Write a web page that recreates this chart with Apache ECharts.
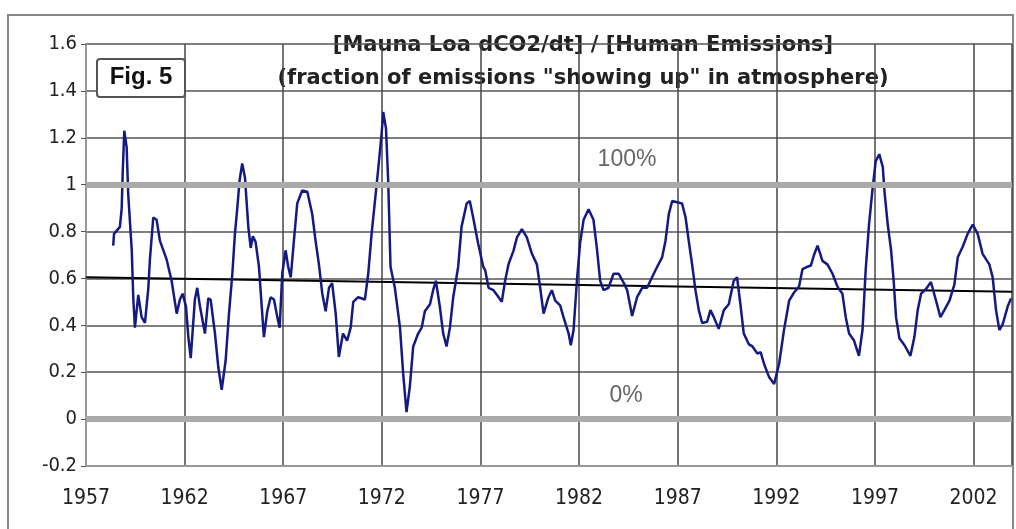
<!DOCTYPE html>
<html>
<head>
<meta charset="utf-8">
<script src="https://cdn.jsdelivr.net/npm/echarts@6/dist/echarts.min.js"></script>
<style>
  html, body { margin: 0; padding: 0; background: #fff; }
  #chart { width: 1016px; height: 529px; }
</style>
</head>
<body>
<div id="chart"></div>
<script>
// split by stretch of years
const yearsA = [1958.38,1958.42,1958.72,1958.81,1958.86,1958.94,1959.06,1959.14,1959.32,1959.40,1959.48,1959.65,1959.82,1959.99,1960.16,1960.24,1960.41,1960.58,1960.75,1961.09,1961.34,1961.60,1961.76,1961.90,1962.07,1962.19,1962.31,1962.52,1962.64,1962.78,1963.03,1963.20,1963.32,1963.54,1963.71,1963.88];
const fracA  = [0.74,0.79,0.82,0.90,1.05,1.23,1.16,0.96,0.72,0.51,0.39,0.53,0.435,0.41,0.56,0.68,0.86,0.85,0.76,0.68,0.59,0.45,0.51,0.535,0.48,0.35,0.26,0.51,0.56,0.48,0.365,0.515,0.51,0.365,0.22,0.125];

const yearsB = [1964.08,1964.25,1964.42,1964.55,1964.67,1964.79,1964.92,1965.06,1965.23,1965.35,1965.46,1965.60,1965.77,1965.91,1966.02,1966.19,1966.36,1966.53,1966.70,1966.82,1966.95,1967.12,1967.25,1967.38,1967.54,1967.71,1967.96,1968.22,1968.47,1968.64,1968.81,1968.98,1969.15,1969.32,1969.48,1969.66,1969.82,1970.03,1970.24,1970.42,1970.55];
const fracB  = [0.25,0.45,0.62,0.79,0.90,1.02,1.09,1.03,0.82,0.73,0.78,0.755,0.65,0.48,0.35,0.46,0.52,0.51,0.435,0.39,0.62,0.72,0.65,0.605,0.76,0.92,0.975,0.97,0.875,0.76,0.66,0.535,0.46,0.56,0.58,0.45,0.265,0.365,0.335,0.39,0.50];

const yearsC = [1970.80,1971.14,1971.31,1971.48,1971.65,1971.82,1971.99,1972.07,1972.21,1972.32,1972.44,1972.66,1972.92,1973.08,1973.25,1973.42,1973.59,1973.84,1974.02,1974.18,1974.44,1974.60,1974.74,1974.94,1975.11,1975.28,1975.45,1975.62,1975.87,1976.04,1976.30,1976.46,1976.63,1976.88,1977.14];
const fracC  = [0.52,0.51,0.62,0.79,0.93,1.07,1.22,1.31,1.24,1.02,0.65,0.56,0.39,0.195,0.03,0.14,0.31,0.365,0.39,0.46,0.49,0.55,0.59,0.48,0.365,0.31,0.39,0.52,0.65,0.82,0.92,0.93,0.86,0.75,0.65];

const yearsD = [1977.24,1977.41,1977.66,1977.92,1978.08,1978.25,1978.42,1978.68,1978.85,1979.10,1979.35,1979.61,1979.86,1980.03,1980.20,1980.45,1980.62,1980.79,1981.04,1981.21,1981.47,1981.58,1981.72,1981.89,1982.05,1982.23,1982.48,1982.73,1982.90,1983.07,1983.24,1983.49,1983.75];
const fracD  = [0.635,0.56,0.55,0.52,0.50,0.59,0.66,0.72,0.775,0.81,0.775,0.705,0.66,0.56,0.45,0.52,0.55,0.505,0.485,0.435,0.365,0.315,0.38,0.59,0.75,0.85,0.895,0.85,0.73,0.59,0.55,0.56,0.62];

const yearsE = [1984.01,1984.27,1984.44,1984.69,1984.94,1985.20,1985.45,1985.70,1985.96,1986.21,1986.38,1986.55,1986.72,1986.97,1987.22,1987.40,1987.56,1987.73,1987.90,1988.07,1988.24,1988.49,1988.66,1988.83,1989.08,1989.34,1989.59,1989.84,1990.01,1990.18,1990.35,1990.60];
const fracE  = [0.62,0.58,0.55,0.44,0.52,0.56,0.56,0.605,0.65,0.69,0.76,0.875,0.93,0.925,0.92,0.86,0.76,0.66,0.55,0.465,0.41,0.415,0.465,0.435,0.385,0.465,0.49,0.59,0.605,0.49,0.365,0.32];

const yearsF = [1990.79,1991.04,1991.21,1991.38,1991.63,1991.89,1992.14,1992.39,1992.65,1992.90,1993.15,1993.33,1993.58,1993.75,1993.91,1994.09,1994.34,1994.59,1994.85,1995.10,1995.35,1995.52,1995.69,1995.94,1996.19,1996.37,1996.53,1996.70,1996.87,1997.04,1997.22];
const fracF  = [0.31,0.28,0.285,0.235,0.18,0.15,0.235,0.38,0.505,0.54,0.565,0.64,0.65,0.655,0.70,0.74,0.675,0.66,0.62,0.565,0.535,0.435,0.365,0.335,0.27,0.38,0.635,0.83,0.975,1.10,1.13];

const yearsG = [1997.40,1997.48,1997.65,1997.82,1997.95,1998.07,1998.24,1998.50,1998.80,1999.00,1999.17,1999.34,1999.59,1999.84,2000.10,2000.32,2000.52,2000.78,2001.03,2001.20,2001.45,2001.70,2001.96,2002.21,2002.46,2002.80,2002.97,2003.14,2003.31,2003.48,2003.73,2003.90];
const fracG  = [1.075,0.975,0.83,0.72,0.59,0.435,0.345,0.315,0.27,0.35,0.465,0.535,0.555,0.585,0.505,0.435,0.465,0.505,0.575,0.69,0.735,0.79,0.83,0.79,0.705,0.66,0.605,0.465,0.38,0.405,0.48,0.515];

const trendYears = [1957, 2003.95];
const trendFrac = [0.605, 0.543];

const refLevels = [1, 0];

const years = [].concat(yearsA, yearsB, yearsC, yearsD, yearsE, yearsF, yearsG);
const frac = [].concat(fracA, fracB, fracC, fracD, fracE, fracF, fracG);
const fracData = years.map((y, i) => [y, frac[i]]);
const trendData = trendYears.map((y, i) => [y, trendFrac[i]]);

const narrow = "'Liberation Sans Narrow', 'DejaVu Sans Condensed', 'Liberation Sans', Arial, sans-serif";
const titleFont = "bold 21px 'DejaVu Sans', Arial, sans-serif";

var myChart = echarts.init(document.getElementById('chart'));

var option = {
  backgroundColor: '#fff',
  animation: false,
  grid: {left: 86, top: 44, right: 4, bottom: 63},
  xAxis: {
    type: 'value', min: 1957, max: 2003.95, interval: 5,
    axisLine: {onZero: false, lineStyle: {color: '#999', width: 2}},
    axisTick: {show: false},
    axisLabel: {
      color: '#222', fontFamily: narrow, fontSize: 21, margin: 22,
      showMaxLabel: false,
      formatter: (v) => String(Math.round(v))
    },
    splitLine: {show: true, lineStyle: {color: '#444', width: 1.5}}
  },
  yAxis: {
    type: 'value', min: -0.2, max: 1.6, interval: 0.2,
    axisLine: {show: true, lineStyle: {color: '#999', width: 2}},
    axisTick: {show: true, inside: false, length: 5, lineStyle: {color: '#555'}},
    axisLabel: {color: '#222', fontFamily: narrow, fontSize: 20, margin: 9},
    splitLine: {show: true, lineStyle: {color: '#555', width: 1.5}}
  },
  graphic: [
    {type: 'rect', shape: {x: 8, y: 15, width: 1005, height: 530},
      style: {fill: 'none', stroke: '#888', lineWidth: 2}, silent: true},
    {type: 'text', x: 583, y: 35, z: -1,
      style: {text: '[Mauna Loa dCO2/dt] / [Human Emissions]', fill: '#222',
        font: titleFont, textAlign: 'center'}},
    {type: 'text', x: 583, y: 68, z: -1,
      style: {text: '(fraction of emissions "showing up" in atmosphere)', fill: '#222',
        font: titleFont, textAlign: 'center'}},
    {type: 'rect', z: 50, shape: {x: 97, y: 59, width: 88, height: 38, r: 3},
      style: {fill: '#fff', stroke: '#555', lineWidth: 2}},
    {type: 'text', z: 51, x: 141, y: 65,
      style: {text: 'Fig. 5', fill: '#111', font: 'bold 24px Arial, sans-serif', textAlign: 'center'}},
    {type: 'text', z: 51, x: 627, y: 148,
      style: {text: '100%', fill: '#666', font: '23px Arial, sans-serif', textAlign: 'center'}},
    {type: 'text', z: 51, x: 626, y: 384,
      style: {text: '0%', fill: '#666', font: '23px Arial, sans-serif', textAlign: 'center'}}
  ],
  series: [
    {
      name: 'levels', type: 'line', data: [], silent: true,
      markLine: {
        silent: true, symbol: 'none', label: {show: false},
        lineStyle: {color: '#aaa', width: 6, type: 'solid'},
        data: refLevels.map((v) => ({yAxis: v}))
      }
    },
    {
      name: 'trend', type: 'line', data: trendData, showSymbol: false, z: 3,
      lineStyle: {color: '#000', width: 2}
    },
    {
      name: 'fraction', type: 'line', data: fracData, showSymbol: false, z: 4,
      lineStyle: {color: '#141a82', width: 2.5}
    }
  ]
};

myChart.setOption(option);
</script>
</body>
</html>
